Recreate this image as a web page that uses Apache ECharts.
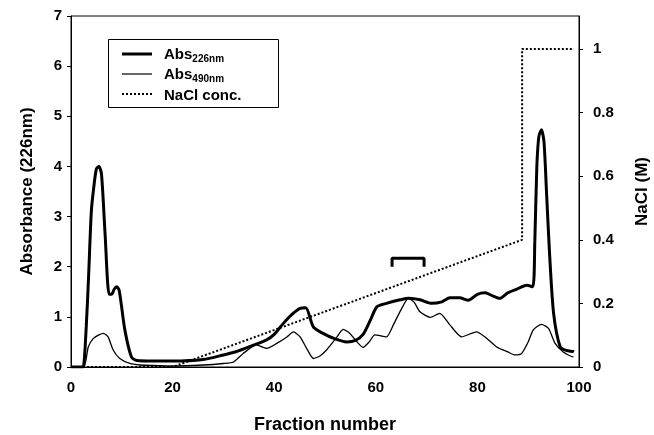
<!DOCTYPE html>
<html>
<head>
<meta charset="utf-8">
<script src="https://cdn.jsdelivr.net/npm/echarts@6/dist/echarts.min.js"></script>
<style>
html,body{margin:0;padding:0;background:#fff;}
#c{width:654px;height:435px;}
</style>
</head>
<body>
<div id="c"></div>
<script>
// ---- data ----
const absFractions = [0, 2, 2.4, 3, 3.5, 4, 4.5, 5, 5.5, 6, 6.7, 7.5, 8, 8.5, 9, 9.5, 10.6, 11.9, 13, 16, 20, 26, 30, 32.6, 35, 38.5, 40, 41.8, 43.5, 45.1, 46.2, 47.7, 49.6, 52, 54.3, 56, 57.5, 59, 60.2, 62.1, 64.8, 66.5, 68.7, 71, 73, 74.6, 76.5, 78.2, 80, 81.5, 83, 84.4, 86, 87.7, 89.7, 90.9, 91.3, 91.7, 92.1, 92.6, 93.1, 93.6, 94.2, 95, 96.3, 97.5, 98.8, 99];
const abs226 = [0, 0, 0, 0.8, 1.9, 3.1, 3.6, 3.95, 4.0, 3.85, 2.67, 1.45, 1.45, 1.55, 1.6, 1.52, 0.74, 0.2, 0.13, 0.12, 0.12, 0.15, 0.24, 0.31, 0.4, 0.54, 0.65, 0.87, 1.05, 1.17, 1.18, 0.8, 0.67, 0.56, 0.5, 0.53, 0.65, 0.95, 1.2, 1.27, 1.34, 1.37, 1.34, 1.27, 1.3, 1.38, 1.38, 1.33, 1.45, 1.48, 1.42, 1.37, 1.48, 1.55, 1.63, 1.6, 2.5, 4.0, 4.6, 4.73, 4.5, 3.5, 2.27, 1.07, 0.4, 0.33, 0.31, 0.3];

const thinFractions = [0, 2.5, 3.4, 4.4, 5.5, 6.4, 7.3, 8.3, 9.6, 11.6, 13.6, 16, 20, 26, 30, 32, 33.9, 36.5, 38.5, 40.5, 42.5, 43.8, 45.1, 46.5, 47.7, 49, 50.3, 52, 53.6, 54.9, 56.3, 57.5, 58.7, 59.8, 62.1, 63.5, 65, 66.4, 67.5, 68.7, 70.7, 72.6, 74.5, 76.9, 79.8, 81.5, 83.8, 86, 87.4, 88.7, 90, 91, 92.6, 94, 95.3, 96.9, 98.9, 99];
const abs490 = [0, 0, 0.4, 0.57, 0.64, 0.67, 0.6, 0.34, 0.17, 0.07, 0.04, 0.03, 0.02, 0.04, 0.07, 0.1, 0.27, 0.44, 0.37, 0.47, 0.6, 0.7, 0.6, 0.35, 0.17, 0.22, 0.34, 0.55, 0.75, 0.67, 0.5, 0.39, 0.5, 0.64, 0.6, 0.85, 1.15, 1.37, 1.3, 1.1, 0.99, 1.07, 0.85, 0.6, 0.7, 0.6, 0.4, 0.3, 0.24, 0.27, 0.5, 0.74, 0.85, 0.77, 0.47, 0.3, 0.2, 0.2];

const naclFractions = [0, 20, 88.8, 88.8, 99];
const naclConc = [0, 0, 0.4, 1.0, 1.0];

const bracketFractions = [63.2, 63.2, 69.5, 69.5];
const bracketAbs = [2.03, 2.17, 2.17, 2.03];

const xTicks = [0, 20, 40, 60, 80, 100];
const leftTicks = [0, 1, 2, 3, 4, 5, 6, 7];
const rightTicks = [0, 0.2, 0.4, 0.6, 0.8, 1];

const zip = (xs, ys) => xs.map((x, i) => [x, ys[i]]);

const FONT = '"Liberation Sans", Arial, sans-serif';
const lbl = {color: '#000', fontFamily: FONT, fontWeight: 'bold', fontSize: 15};
const rich = {
  n: {fontFamily: FONT, fontWeight: 'bold', fontSize: 15, fill: '#000', lineHeight: 18},
  s: {fontFamily: FONT, fontWeight: 'bold', fontSize: 10, fill: '#000', lineHeight: 18, verticalAlign: 'bottom', padding: [7, 0, 0, 0]}
};

// legend drawn as graphic (box, line samples, labels)
const legendGraphic = [
  {type: 'rect', shape: {x: 108.5, y: 39.5, width: 170, height: 68}, style: {fill: '#fff', stroke: '#000', lineWidth: 1}, z: 100},
  {type: 'line', shape: {x1: 122, y1: 54, x2: 152, y2: 54}, style: {stroke: '#000', lineWidth: 3}, z: 101},
  {type: 'line', shape: {x1: 122, y1: 74, x2: 152, y2: 74}, style: {stroke: '#000', lineWidth: 1.2}, z: 101},
  {type: 'line', shape: {x1: 122, y1: 94, x2: 152, y2: 94}, style: {stroke: '#000', lineWidth: 2, lineDash: [2, 2]}, z: 101},
  {type: 'text', x: 164, y: 55, z: 101, style: {text: '{n|Abs}{s|226nm}', rich: rich, verticalAlign: 'middle'}},
  {type: 'text', x: 164, y: 75, z: 101, style: {text: '{n|Abs}{s|490nm}', rich: rich, verticalAlign: 'middle'}},
  {type: 'text', x: 164, y: 96, z: 101, style: {text: '{n|NaCl conc.}', rich: rich, verticalAlign: 'middle'}}
];

const chart = echarts.init(document.getElementById('c'), null, {renderer: 'canvas'});
chart.setOption({
  animation: false,
  backgroundColor: '#fff',
  grid: {left: 71, right: 75, top: 16, bottom: 68, show: true, borderColor: '#000', borderWidth: 1, outerBoundsMode: 'none', containLabel: false},
  graphic: legendGraphic,
  xAxis: {
    type: 'value', min: 0, max: 100, interval: 20,
    name: 'Fraction number', nameLocation: 'middle', nameGap: 49,
    nameTextStyle: {color: '#000', fontFamily: FONT, fontWeight: 'bold', fontSize: 18},
    axisLine: {lineStyle: {color: '#000', width: 1}},
    axisTick: {show: false},
    splitLine: {show: false},
    axisLabel: Object.assign({margin: 13, formatter: v => xTicks.includes(v) ? String(v) : ''}, lbl)
  },
  yAxis: [{
    type: 'value', min: 0, max: 7, interval: 1, position: 'left',
    name: 'Absorbance (226nm)', nameLocation: 'middle', nameGap: 35, nameRotate: 90,
    nameTextStyle: {color: '#000', fontFamily: FONT, fontWeight: 'bold', fontSize: 17},
    axisLine: {show: true, lineStyle: {color: '#000', width: 1}},
    axisTick: {show: true, length: 4, lineStyle: {color: '#000'}},
    splitLine: {show: false},
    axisLabel: Object.assign({margin: 9, formatter: v => leftTicks.includes(v) ? String(v) : ''}, lbl)
  }, {
    type: 'value', min: 0, max: 1.104, interval: 0.2, position: 'right',
    name: 'NaCl (M)', nameLocation: 'middle', nameGap: 55, nameRotate: 90,
    nameTextStyle: {color: '#000', fontFamily: FONT, fontWeight: 'bold', fontSize: 17},
    axisLine: {show: true, lineStyle: {color: '#000', width: 1}},
    axisTick: {show: true, length: 4, lineStyle: {color: '#000'}},
    splitLine: {show: false},
    axisLabel: Object.assign({margin: 14, showMaxLabel: false, formatter: v => {
      const m = rightTicks.find(t => Math.abs(t - v) < 1e-6);
      return m === undefined ? '' : String(m);
    }}, lbl)
  }],
  series: [{
    name: 'Abs226', type: 'line', yAxisIndex: 0, symbol: 'none', smooth: 0.25,
    data: zip(absFractions, abs226),
    lineStyle: {color: '#000', width: 3},
    itemStyle: {color: '#000'}
  }, {
    name: 'Abs490', type: 'line', yAxisIndex: 0, symbol: 'none', smooth: 0.2,
    data: zip(thinFractions, abs490),
    lineStyle: {color: '#000', width: 1.3},
    itemStyle: {color: '#000'}
  }, {
    name: 'NaCl conc.', type: 'line', yAxisIndex: 1, symbol: 'none',
    data: zip(naclFractions, naclConc),
    lineStyle: {color: '#000', width: 2, type: [2, 2]},
    itemStyle: {color: '#000'}
  }, {
    name: 'bracket', type: 'line', yAxisIndex: 0, symbol: 'none',
    data: zip(bracketFractions, bracketAbs),
    lineStyle: {color: '#000', width: 3, cap: 'square'},
    itemStyle: {color: '#000'}
  }]
});
</script>
</body>
</html>
